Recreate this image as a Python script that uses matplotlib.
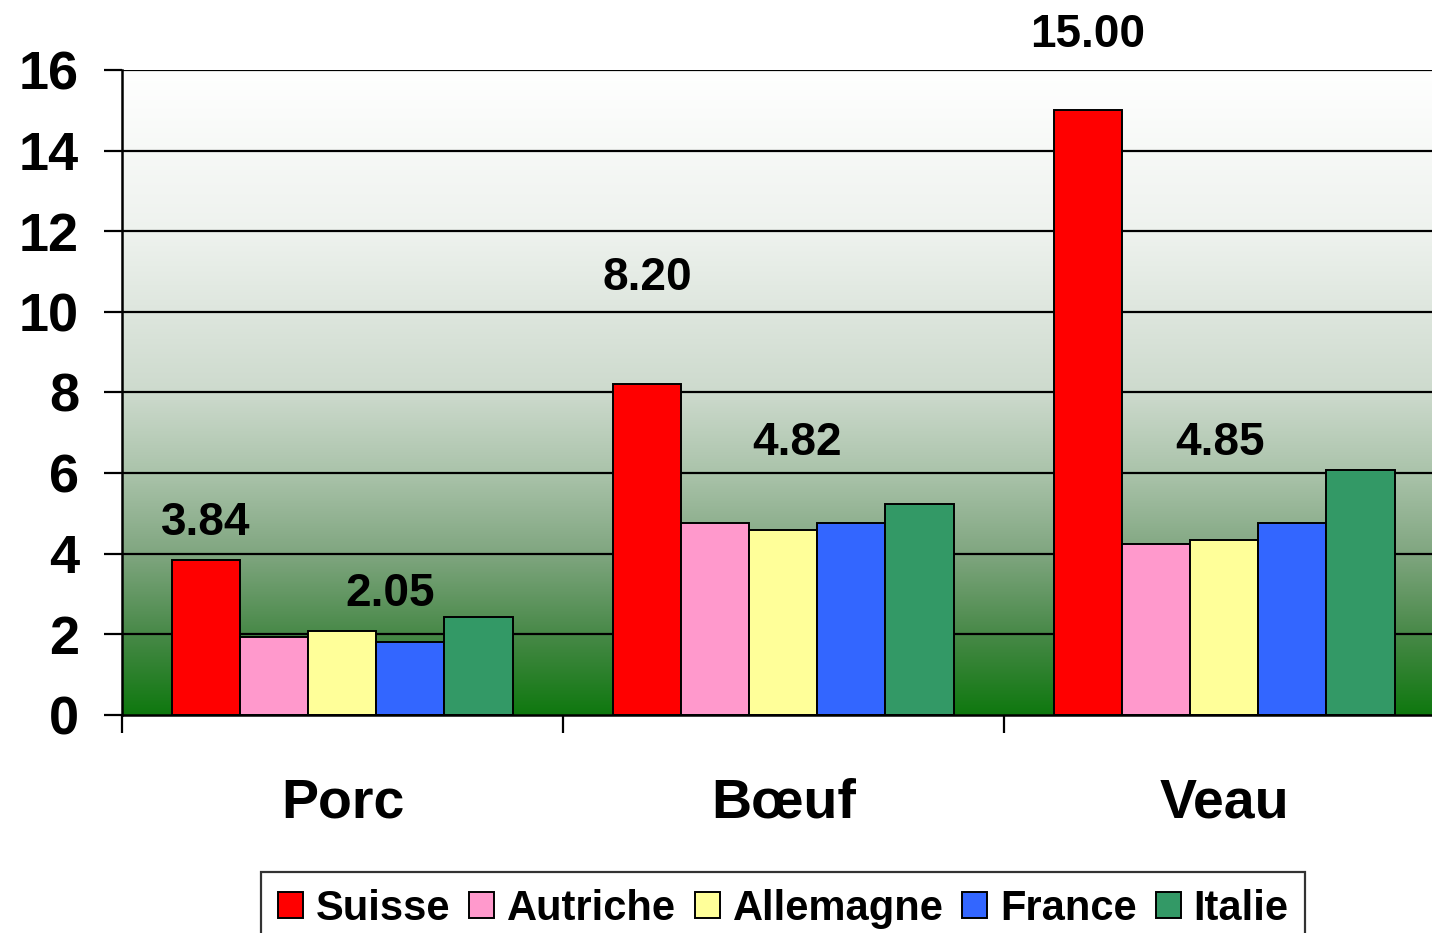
import numpy as np
import matplotlib
matplotlib.use("Agg")
import matplotlib.pyplot as plt
from matplotlib.colors import LinearSegmentedColormap
from matplotlib.patches import Patch

plt.rcParams['font.family'] = ['Liberation Sans', 'DejaVu Sans']
plt.rcParams['font.weight'] = 'bold'

categories = ["Porc", "Bœuf", "Veau"]
countries = ["Suisse", "Autriche", "Allemagne", "France", "Italie"]
colors = ["#ff0000", "#ff99cc", "#ffff99", "#3366ff", "#339966"]

suisse = [3.84, 8.20, 15.00]
autriche = [1.93, 4.75, 4.25]
allemagne = [2.08, 4.59, 4.35]
france = [1.80, 4.75, 4.75]
italie = [2.42, 5.24, 6.07]
series = [suisse, autriche, allemagne, france, italie]

# average of the four neighbours
moyenne = [2.05, 4.82, 4.85]

# label placement as in the original (offset above bar / position in group)
suisse_offset = [0.62, 2.35, 1.58]
moyenne_y = [2.70, 6.45, 6.45]
moyenne_xpos = [0.608, 0.531, 0.490]

fig = plt.figure(figsize=(14.32, 9.33), dpi=100)
ax = fig.add_axes([0.0852, 0.2337, 0.9148, 0.6913])

# background gradient white -> green
stops = [(0.0, (15/255, 120/255, 15/255)),
         (2/16, (72/255, 137/255, 72/255)),
         (4/16, (128/255, 166/255, 128/255)),
         (6/16, (170/255, 195/255, 170/255)),
         (8/16, (205/255, 218/255, 205/255)),
         (12/16, (238/255, 242/255, 238/255)),
         (1.0, (1, 1, 1))]
cmap = LinearSegmentedColormap.from_list("bg", stops)
xmax = 1310 / 441
grad = np.linspace(0, 1, 256).reshape(-1, 1)
ax.imshow(grad, cmap=cmap, origin="lower", aspect="auto",
          extent=[0, xmax, 0, 16], zorder=0)

for y in range(2, 17, 2):
    ax.axhline(y, color="black", lw=1.6, zorder=1)

bw = 0.1545
start = 0.113
x0 = np.arange(len(categories))
for i, (vals, c) in enumerate(zip(series, colors)):
    ax.bar(x0 + start + i * bw, vals, bw, align="edge", color=c,
           edgecolor="black", linewidth=1.4, zorder=2)

for j in range(len(categories)):
    ax.text(x0[j] + start + bw / 2, suisse[j] + suisse_offset[j], "%.2f" % suisse[j],
            ha="center", va="baseline", fontsize=33, fontweight="bold")
    ax.text(x0[j] + moyenne_xpos[j], moyenne_y[j], "%.2f" % moyenne[j],
            ha="center", va="baseline", fontsize=33, fontweight="bold")

ax.set_xlim(0, xmax)
ax.set_ylim(0, 16)
ax.set_yticks(range(0, 17, 2))
ax.tick_params(axis="y", length=13, width=1.6, pad=18, labelsize=39)
ax.set_xticks([0, 1, 2])
ax.set_xticklabels([])
ax.set_xticks(x0 + 0.5, minor=True)
ax.set_xticklabels(categories, minor=True, fontsize=40, fontweight="bold")
ax.tick_params(axis="x", which="major", length=13, width=1.6)
ax.tick_params(axis="x", which="minor", length=0, pad=45)
for lab in ax.get_yticklabels():
    lab.set_fontweight("bold")

for s in ["top", "right"]:
    ax.spines[s].set_visible(False)
for s in ["left", "bottom"]:
    ax.spines[s].set_linewidth(1.8)
    ax.spines[s].set_zorder(3)

handles = [Patch(facecolor=c, edgecolor="black", linewidth=1.4) for c in colors]
leg = fig.legend(handles, countries, loc="upper center", bbox_to_anchor=(0.547, 0.0654),
                 ncol=5, fontsize=30, frameon=True, fancybox=False,
                 handlelength=0.6, handleheight=0.6, handletextpad=0.31,
                 columnspacing=0.45, borderpad=0.4, borderaxespad=0)
leg.get_frame().set_edgecolor("black")
leg.get_frame().set_linewidth(1.6)
for t in leg.get_texts():
    t.set_fontweight("bold")

fig.savefig("out.png", dpi=100)
